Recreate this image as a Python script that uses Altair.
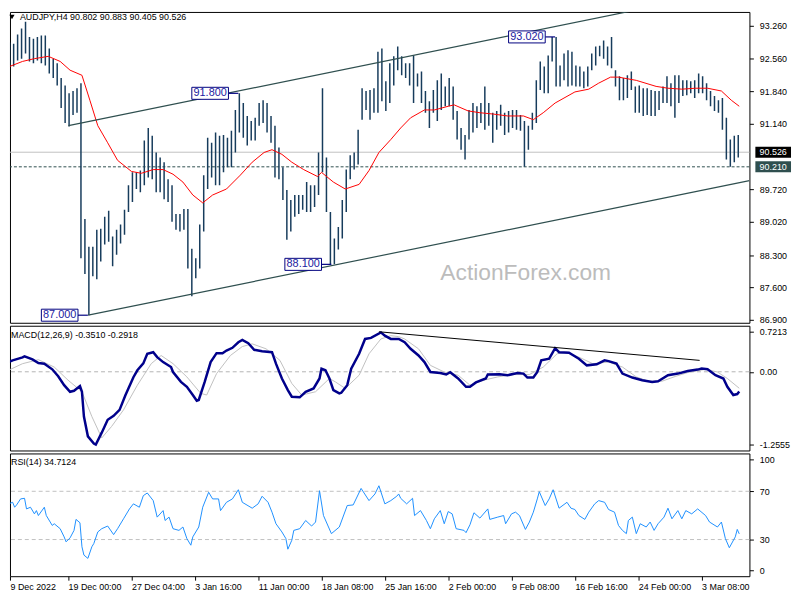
import altair as alt
import pandas as pd

FONT = "Liberation Sans"

# ---------------- data ----------------
# AUDJPY H4 bars, read in pairs of 4-hour bars (high / low of each pair)
price_high = [92.90, 92.90, 92.87, 93.07, 93.20, 93.35, 93.02, 92.98, 93.02, 93.05,
              93.05, 92.77, 92.55, 92.45, 92.13, 91.97, 91.80, 91.85, 91.91, 92.02,
              89.08, 88.48, 88.48, 88.85, 88.87, 89.13, 89.26, 88.70, 88.85, 88.96,
              89.28, 89.81, 90.09, 90.09, 90.13, 90.78, 91.05, 90.88, 90.52, 90.41,
              90.31, 89.94, 89.81, 89.19, 89.19, 89.30, 89.30, 88.44, 88.23, 88.96,
              90.03, 90.84, 90.73, 90.95, 90.88, 90.90, 90.84, 90.99, 91.44, 91.80,
              91.59, 91.31, 91.20, 91.27, 91.59, 91.65, 91.59, 91.31, 91.10, 90.63,
              90.20, 89.71, 89.49, 89.60, 89.60, 89.60, 89.88, 89.81, 89.81, 90.52,
              91.91, 90.41, 89.23, 88.66, 88.91, 89.49, 90.15, 90.46, 90.52, 91.01,
              91.91, 91.85, 91.87, 91.91, 92.70, 92.77, 92.06, 92.45, 92.60, 92.81,
              92.60, 92.45, 92.45, 92.62, 92.23, 92.27, 91.85, 91.63, 91.87, 92.08,
              92.23, 91.95, 92.13, 91.95, 91.42, 91.05, 90.90, 91.44, 91.59, 91.52,
              91.59, 91.95, 91.59, 91.38, 91.42, 91.55, 91.38, 91.42, 91.44, 91.44,
              91.33, 91.20, 91.10, 91.38, 92.08, 92.49, 92.38, 92.62, 93.02, 93.02,
              92.40, 92.66, 92.73, 92.70, 92.40, 92.38, 92.27, 92.38, 92.66, 92.81,
              92.83, 92.94, 92.81, 93.02, 92.30, 92.17, 92.13, 92.19, 92.27, 91.95,
              91.97, 91.91, 91.91, 91.87, 91.85, 91.85, 91.95, 92.17, 92.02, 92.19,
              92.19, 92.08, 92.08, 92.06, 92.08, 92.23, 92.17, 92.02, 91.85, 91.74,
              91.65, 91.70, 91.27, 90.80, 90.88, 90.90]
price_low = [92.08, 92.40, 92.38, 92.51, 92.55, 92.66, 92.49, 92.45, 92.51, 92.45,
             92.40, 92.23, 92.13, 91.97, 91.48, 91.16, 91.08, 91.33, 91.38, 88.23,
             87.89, 87.00, 87.84, 87.78, 88.16, 88.53, 88.59, 88.06, 88.31, 88.55,
             88.74, 89.23, 89.45, 89.73, 89.66, 89.81, 89.98, 89.94, 89.66, 89.66,
             89.51, 89.45, 89.02, 88.85, 88.81, 88.85, 88.01, 87.41, 87.80, 88.01,
             88.81, 89.73, 89.98, 89.81, 89.81, 90.09, 90.20, 90.20, 90.52, 90.95,
             90.84, 90.67, 90.78, 90.78, 91.10, 91.16, 90.95, 90.73, 89.98, 89.94,
             89.49, 88.63, 88.81, 89.13, 89.19, 89.28, 89.23, 89.23, 89.34, 89.60,
             90.09, 89.23, 88.10, 88.10, 88.42, 88.66, 89.23, 89.94, 90.15, 90.26,
             91.23, 91.44, 91.23, 91.38, 91.38, 91.63, 91.42, 91.59, 91.97, 92.30,
             92.19, 92.13, 91.97, 91.59, 91.95, 91.59, 91.38, 91.05, 91.38, 91.20,
             91.44, 91.52, 91.52, 91.23, 90.80, 90.58, 90.37, 90.80, 90.95, 91.05,
             91.16, 91.01, 91.10, 90.73, 91.01, 91.10, 90.90, 90.95, 91.05, 91.01,
             90.99, 90.21, 90.58, 91.01, 91.16, 91.87, 91.80, 91.80, 92.49, 91.95,
             91.95, 92.08, 91.95, 91.97, 91.95, 91.95, 91.91, 91.95, 92.30, 92.40,
             92.60, 92.55, 92.40, 92.34, 91.95, 91.65, 91.65, 91.70, 91.87, 91.38,
             91.38, 91.31, 91.33, 91.31, 91.31, 91.44, 91.59, 91.59, 91.52, 91.27,
             91.59, 91.74, 91.76, 91.80, 91.70, 91.80, 91.80, 91.65, 91.52, 91.42,
             91.38, 91.01, 90.37, 90.21, 90.31, 90.41]

# moving average (red) : bar index (4H bars) and value
ma_bar = [0, 9, 15, 22, 28, 33, 39, 43, 47, 52, 57, 64, 69, 75, 80, 85, 90, 95, 100, 105,
          112, 119, 125, 131, 135, 140, 145, 151, 158, 160, 166, 172, 179, 184, 189, 195, 200, 205, 212, 217,
          224, 227, 234, 240, 247, 254, 262, 267, 272, 278, 288, 295, 300, 306, 310, 319, 329, 335, 342, 349,
          355, 362, 367, 371]
ma_value = [92.34, 92.49, 92.55, 92.60, 92.49, 92.30, 92.19, 91.65, 91.10, 90.73,
            90.35, 90.11, 90.07, 90.15, 90.15, 90.05, 89.88, 89.60, 89.43, 89.60,
            89.73, 90.03, 90.31, 90.52, 90.58, 90.48, 90.31, 90.15, 90.00, 90.09,
            89.88, 89.73, 89.83, 90.13, 90.52, 90.80, 91.05, 91.27, 91.44, 91.44,
            91.52, 91.55, 91.42, 91.38, 91.35, 91.31, 91.31, 91.23, 91.38, 91.59,
            91.83, 91.89, 92.02, 92.15, 92.15, 92.08, 91.95, 91.91, 91.89, 91.91,
            91.91, 91.85, 91.65, 91.52]

# channel trend lines (bar index, price)
upper_bar = [32.2, 330.2]
upper_price = [91.10, 93.70]
lower_bar = [42.15, 376.15]
lower_price = [87.00, 89.91]

# marked extremes
extreme_bar = [42, 118, 165, 278]
extreme_price = [87.000, 91.800, 88.100, 93.020]
extreme_label = ["87.000", "91.800", "88.100", "93.020"]

last_price = 90.526
support_price = 90.210
price_ticks = [93.26, 92.56, 91.84, 91.14, 89.72, 89.02, 88.30, 87.60, 86.90]

# MACD(12,26,9)
macd_bar = [0, 4, 9, 10, 14, 17, 20, 24, 27, 30, 33, 35, 38, 39, 40, 42, 45, 46, 49, 52,
            55, 58, 61, 65, 67, 70, 72, 75, 77, 80, 84, 85, 89, 92, 95, 97, 98, 101, 104, 107,
            110, 112, 115, 118, 120, 123, 126, 130, 135, 137, 140, 143, 145, 149, 152, 156, 159, 160, 162, 164,
            166, 169, 170, 173, 175, 179, 182, 185, 190, 192, 195, 199, 202, 205, 209, 212, 215, 220, 223, 225,
            229, 233, 235, 238, 243, 244, 250, 254, 259, 262, 264, 267, 269, 271, 275, 278, 280, 285, 290, 294,
            299, 303, 305, 309, 312, 317, 322, 327, 330, 335, 340, 345, 350, 352, 355, 359, 363, 365, 368, 370,
            371]
macd_value = [0.144, 0.202, 0.254, 0.272, 0.219, 0.154, 0.144, 0.044, -0.079, -0.237,
              -0.354, -0.337, -0.254, -0.354, -0.793, -1.144, -1.272, -1.289, -1.079, -0.851,
              -0.781, -0.675, -0.412, -0.096, 0.026, 0.149, 0.319, 0.347, 0.260, 0.172,
              0.084, -0.004, -0.179, -0.267, -0.412, -0.512, -0.500, -0.179, 0.172, 0.330,
              0.330, 0.377, 0.425, 0.523, 0.565, 0.505, 0.389, 0.365, 0.347, 0.144,
              -0.119, -0.325, -0.442, -0.453, -0.354, -0.295, -0.119, 0.056, 0.026, -0.119,
              -0.325, -0.382, -0.372, -0.237, 0.056, 0.319, 0.582, 0.600, 0.698, 0.640,
              0.582, 0.582, 0.523, 0.407, 0.289, 0.172, -0.004, -0.021, -0.049, -0.009,
              -0.119, -0.267, -0.267, -0.189, -0.119, -0.049, -0.044, -0.061, -0.021, -0.032,
              -0.102, -0.102, -0.004, 0.202, 0.232, 0.418, 0.347, 0.337, 0.232, 0.114,
              0.132, 0.202, 0.189, 0.144, -0.032, -0.102, -0.149, -0.179, -0.167, -0.061,
              -0.032, 0.014, 0.039, 0.056, 0.044, -0.061, -0.119, -0.267, -0.412, -0.395,
              -0.351]
signal_bar = [0, 9, 17, 25, 32, 39, 44, 49, 54, 60, 67, 74, 79, 85, 92, 99, 102, 107, 114, 120,
              125, 132, 139, 145, 150, 157, 164, 167, 172, 179, 184, 190, 195, 199, 202, 209, 215, 222, 229, 235,
              242, 249, 257, 265, 272, 279, 284, 290, 297, 305, 312, 319, 325, 332, 339, 345, 354, 360, 365, 371]
signal_value = [-0.004, 0.144, 0.214, 0.084, -0.149, -0.354, -0.793, -1.172, -0.968, -0.675,
                -0.237, 0.144, 0.289, 0.144, -0.091, -0.382, -0.412, -0.032, 0.289, 0.447,
                0.495, 0.407, 0.202, -0.207, -0.412, -0.354, -0.119, -0.179, -0.295, -0.061,
                0.319, 0.582, 0.640, 0.623, 0.582, 0.407, 0.114, -0.004, -0.061, -0.237,
                -0.149, -0.091, -0.049, -0.049, 0.084, 0.319, 0.347, 0.260, 0.144, 0.172,
                0.084, -0.091, -0.167, -0.167, -0.079, -0.014, 0.044, -0.004, -0.119, -0.292]
macd_trend_bar = [189, 351]
macd_trend_value = [0.709, 0.202]

# RSI(14)
rsi_bar = [0, 2, 4, 5, 6, 8, 10, 11, 13, 15, 16, 17, 20, 21, 24, 25, 28, 30, 31, 33,
           35, 36, 38, 39, 40, 42, 44, 45, 47, 49, 52, 55, 57, 60, 63, 65, 68, 70, 72, 75,
           77, 80, 81, 83, 85, 88, 90, 92, 94, 95, 98, 100, 103, 105, 108, 109, 112, 115, 118, 120,
           125, 128, 130, 133, 135, 137, 140, 142, 143, 145, 146, 149, 152, 155, 157, 159, 161, 165, 169, 173,
           176, 180, 184, 187, 189, 192, 195, 198,
           199, 200, 203, 206, 207, 210, 213, 215, 217, 220, 222, 224, 226, 228, 232, 233, 235, 237, 240, 244,
           245, 249, 252, 253, 256, 258, 260, 263, 265, 267, 269, 270, 273, 275, 277, 280, 284, 286, 288, 290,
           293, 295, 298, 300, 303, 305, 308, 310, 312, 314, 315, 317, 319, 321, 324, 326, 328, 330, 333, 335,
           337, 340, 342, 344, 347, 350, 354, 356, 360, 362, 364, 366, 369, 370, 371]
rsi_value = [62.3, 59.6, 60.9, 56.8, 58.7, 63.7, 64.2, 55.4, 56.8, 51.3,
             54.0, 49.9, 56.8, 49.9, 41.7, 43.1, 39.0, 32.2, 28.1, 31.4,
             37.6, 46.7, 43.9, 24.0, 17.1, 14.4, 24.0, 26.7, 36.3, 39.0,
             41.2, 34.1, 39.0, 47.2, 55.4, 59.6, 56.8, 66.4, 68.6, 62.3,
             48.6, 54.0, 45.8, 48.6, 39.0, 37.6, 40.4, 30.8, 25.3, 32.2,
             40.4, 56.8, 69.2, 63.7, 63.7, 54.0, 60.9, 63.7, 71.3, 60.9,
             56.0, 59.6, 65.9, 60.9, 52.7, 43.1, 36.3, 30.8, 22.0, 29.4,
             37.6, 39.0, 45.8, 41.2, 44.5, 70.5, 49.9, 34.9, 40.4, 58.2,
             58.7, 72.4, 62.3, 67.8, 74.6, 59.6, 62.3, 65.9,
             67.8, 64.2, 59.6, 64.2, 49.9, 54.0, 45.8, 39.0, 47.2, 54.0,
             43.1, 53.2, 51.3, 39.0, 37.6, 35.7, 42.3, 52.2, 47.8, 55.4,
             46.7, 48.6, 49.9, 43.1, 51.3, 52.7, 49.9, 38.4, 44.5, 52.7,
             63.7, 69.7, 58.2, 63.7, 71.3, 56.0, 60.9, 56.0, 54.9, 49.9,
             46.7, 52.7, 59.6, 62.3, 60.9, 54.9, 52.7, 41.7, 37.6, 34.9,
             45.8, 48.6, 34.9, 43.1, 40.4, 44.5, 37.6, 43.1, 48.6, 56.0,
             47.2, 54.0, 47.2, 54.0, 51.3, 55.4, 49.9, 44.5, 40.4, 44.5,
             30.8, 23.2, 32.2, 38.4, 34.7]

date_tick_bar = [0, 32, 64, 96, 128, 160, 192, 224, 256, 288, 320, 352]
date_labels = ["9 Dec 2022", "19 Dec 00:00", "27 Dec 04:00", "3 Jan 16:00", "11 Jan 00:00",
               "18 Jan 08:00", "25 Jan 16:00", "2 Feb 00:00", "9 Feb 08:00", "16 Feb 16:00",
               "24 Feb 00:00", "3 Mar 08:00"]

# ---------------- chart ----------------
W = 747
X_DOMAIN = [2.65, 376.15]
xs = alt.Scale(domain=X_DOMAIN, nice=False, zero=False)
ps = alt.Scale(domain=[86.836, 93.560], nice=False, zero=False)
ms = alt.Scale(domain=[-1.3947, 0.8158], nice=False, zero=False)
rs = alt.Scale(domain=[-0.4, 101.4], nice=False, zero=False)

axis_common = dict(orient="right", title=None, grid=False, domain=False, tickSize=4,
                   tickColor="#000000", labelColor="#000000", labelFont=FONT,
                   labelFontSize=9, labelPadding=6, labelOverlap=False)
price_axis = alt.Axis(values=price_ticks, format=".3f", **axis_common)
macd_axis = alt.Axis(values=[0.711, 0, -1.289],
                     labelExpr="datum.value > 0.5 ? '0.7213' : (datum.value < -1 ? '-1.2555' : '0.00')",
                     **axis_common)
rsi_axis = alt.Axis(values=[96.5, 70, 30, 4.5],
                    labelExpr="datum.value > 90 ? '100' : (datum.value > 50 ? '70' : (datum.value > 20 ? '30' : '0'))",
                    **axis_common)

tick_vals = [max(v, X_DOMAIN[0]) for v in date_tick_bar]
expr = " : ".join(f"datum.value < {v + 1} ? '{lab}'" for v, lab in zip(tick_vals, date_labels)) + " : ''"
date_axis = alt.Axis(values=tick_vals, labelExpr=expr, orient="bottom", title=None, grid=False,
                     domain=False, tickSize=4, tickColor="#000000", labelColor="#000000",
                     labelFont=FONT, labelFontSize=9, labelAlign="left", labelFlush=False,
                     labelOverlap=False, labelPadding=2)


def px(f):
    return alt.X(f, type="quantitative", scale=xs, axis=None)


def py(f):
    return alt.Y(f, type="quantitative", scale=ps, axis=price_axis)


def my(f):
    return alt.Y(f, type="quantitative", scale=ms, axis=macd_axis)


def ry(f):
    return alt.Y(f, type="quantitative", scale=rs, axis=rsi_axis)


one = pd.DataFrame({"a": [0]})

bars = pd.DataFrame({"t": [2 * j + 0.5 for j in range(len(price_high))],
                     "high": price_high, "low": price_low})
ma = pd.DataFrame({"t": ma_bar, "v": ma_value})
channel = pd.DataFrame({"t": upper_bar + lower_bar, "p": upper_price + lower_price,
                        "line": ["upper", "upper", "lower", "lower"]})
extremes = pd.DataFrame({"t": extreme_bar, "p": extreme_price, "label": extreme_label})
tags = pd.DataFrame({"p": [last_price, support_price],
                     "label": [f"{last_price:.3f}", f"{support_price:.3f}"],
                     "bg": ["#000000", "#2f4f4f"]})

bid_line = alt.Chart(pd.DataFrame({"p": [last_price]})).mark_rule(
    color="#c0c0c0", strokeWidth=1).encode(y=py("p"))
sup_line = alt.Chart(pd.DataFrame({"p": [support_price]})).mark_rule(
    color="#2f4f4f", strokeWidth=1, strokeDash=[3, 2]).encode(y=py("p"))
watermark = alt.Chart(one).mark_text(
    text="ActionForex.com", font=FONT, fontSize=23, color="#bcbcbc", align="center",
    baseline="alphabetic").encode(x=alt.value(521), y=alt.value(271))
bar_layer = alt.Chart(bars).mark_rule(color="#173c5c", strokeWidth=1.5, clip=True).encode(
    x=px("t"), y=py("low"), y2=alt.Y2("high"))
ma_layer = alt.Chart(ma).mark_line(color="#ff0000", strokeWidth=1, clip=True).encode(
    x=px("t"), y=py("v"))
chan_layer = alt.Chart(channel).mark_line(color="#2f4f4f", strokeWidth=1.2, clip=True).encode(
    x=px("t"), y=py("p"), detail="line:N")

ext_base = alt.Chart(extremes).transform_calculate(
    x0="datum.t - 23.5", x1="datum.t - 5", tx="datum.t - 14.25",
    y0="datum.p - 0.13", y1="datum.p + 0.13")
ext_conn = ext_base.mark_rule(color="#000080", strokeWidth=1.2).encode(
    x=px("x1"), x2=alt.X2("t"), y=py("p"))
ext_box = ext_base.mark_rect(fill="#ffffff", stroke="#000080", strokeWidth=1).encode(
    x=px("x0"), x2=alt.X2("x1"), y=py("y0"), y2=alt.Y2("y1"))
ext_text = ext_base.mark_text(font=FONT, fontSize=11, color="#1a1aa0", align="center",
                              baseline="middle").encode(x=px("tx"), y=py("p"), text="label:N")

tag_base = alt.Chart(tags).transform_calculate(y0="datum.p - 0.118", y1="datum.p + 0.118")
tag_box = tag_base.mark_rect().encode(
    x=alt.value(753), x2=alt.value(789), y=py("y0"), y2=alt.Y2("y1"),
    color=alt.Color("bg:N", scale=None))
tag_text = tag_base.mark_text(font=FONT, fontSize=9, color="#ffffff", align="center",
                              baseline="middle").encode(x=alt.value(771), y=py("p"), text="label:N")

title_tri = alt.Chart(one).mark_point(shape="triangle-down", filled=True, color="#000000",
                                      size=28, opacity=1).encode(x=alt.value(2), y=alt.value(5))
title_txt = alt.Chart(one).mark_text(
    text="AUDJPY,H4  90.802 90.883 90.405 90.526", font=FONT, fontSize=9, color="#000000",
    align="left", baseline="middle").encode(x=alt.value(10), y=alt.value(5))

price_panel = alt.layer(
    bid_line, sup_line, watermark, bar_layer, ma_layer, chan_layer,
    ext_conn, ext_box, ext_text, tag_box, tag_text, title_tri, title_txt
).properties(width=W, height=314)

# MACD panel
macd_df = pd.DataFrame({"t": macd_bar, "v": macd_value})
sig_df = pd.DataFrame({"t": signal_bar, "v": signal_value})
mtrend = pd.DataFrame({"t": macd_trend_bar, "v": macd_trend_value})
zero = alt.Chart(pd.DataFrame({"v": [0.0]})).mark_rule(
    color="#b4b4b4", strokeDash=[4, 3], strokeWidth=1).encode(y=my("v"))
sig_layer = alt.Chart(sig_df).mark_line(color="#c0c0c0", strokeWidth=1, clip=True).encode(
    x=px("t"), y=my("v"))
macd_layer = alt.Chart(macd_df).mark_line(color="#00008b", strokeWidth=2.5, clip=True).encode(
    x=px("t"), y=my("v"))
mtrend_layer = alt.Chart(mtrend).mark_line(color="#000000", strokeWidth=1).encode(
    x=px("t"), y=my("v"))
macd_title = alt.Chart(one).mark_text(
    text="MACD(12,26,9) -0.3510 -0.2918", font=FONT, fontSize=9, color="#000000",
    align="left", baseline="middle").encode(x=alt.value(1), y=alt.value(9))
macd_panel = alt.layer(zero, sig_layer, macd_layer, mtrend_layer, macd_title).properties(
    width=W, height=126)

# RSI panel
rsi_df = pd.DataFrame({"t": rsi_bar, "v": rsi_value})
lv = alt.Chart(pd.DataFrame({"v": [70, 30]})).mark_rule(
    color="#c0c0c0", strokeDash=[4, 3], strokeWidth=1).encode(y=ry("v"))
rsi_layer = alt.Chart(rsi_df).mark_line(color="#1e90ff", strokeWidth=1, clip=True).encode(
    x=alt.X("t", type="quantitative", scale=xs, axis=date_axis), y=ry("v"))
rsi_title = alt.Chart(one).mark_text(
    text="RSI(14) 34.7124", font=FONT, fontSize=9, color="#000000",
    align="left", baseline="middle").encode(x=alt.value(1), y=alt.value(9))
rsi_panel = alt.layer(lv, rsi_layer, rsi_title).properties(width=W, height=124)

chart = alt.vconcat(price_panel, macd_panel, rsi_panel, spacing=3, bounds="flush").properties(
    padding=0, background="#ffffff"
).configure_view(stroke="#000000", strokeWidth=1)

chart.save("out.html", embed_options={"renderer": "svg", "actions": False})
